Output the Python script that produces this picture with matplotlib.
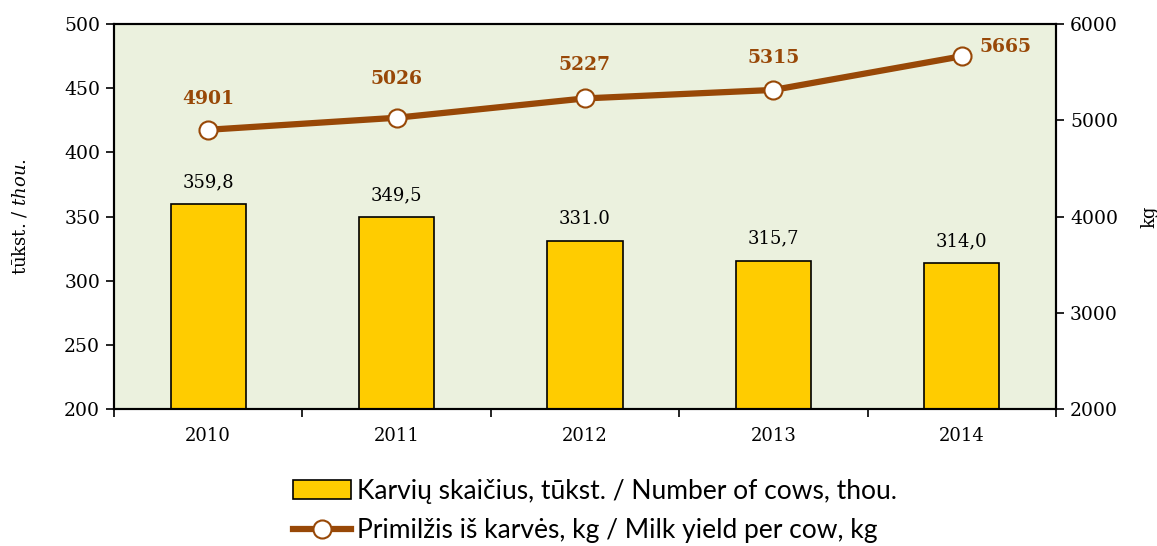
import numpy as np
import matplotlib.pyplot as plt
from matplotlib.lines import Line2D
from matplotlib.patches import Patch

years = ['2010', '2011', '2012', '2013', '2014']
cows = [359.8, 349.5, 331.0, 315.7, 314.0]
cow_labels = ['359,8', '349,5', '331.0', '315,7', '314,0']
milk = [4901, 5026, 5227, 5315, 5665]

bar_color = '#FFCC00'
line_color = '#984807'
bg_color = '#EBF1DE'
serif = ['DejaVu Serif']
sans = ['Lato', 'DejaVu Sans']
plt.rcParams['mathtext.fontset'] = 'dejavuserif'

fig = plt.figure(figsize=(11.57, 5.46), dpi=100)
ax = fig.add_axes([114/1157, 1-409/546, (1056-114)/1157, (409-24)/546])
ax.set_facecolor(bg_color)

x = np.arange(len(years))
ax.bar(x, cows, width=0.4, color=bar_color, edgecolor='black', linewidth=1.2, zorder=2)
for xi, v, lab in zip(x, cows, cow_labels):
    ax.text(xi, v + 10, lab, ha='center', va='bottom', fontsize=13, family=serif)

ax.set_xlim(-0.5, 4.5)
ax.set_ylim(200, 500)
ax.set_yticks(np.arange(200, 501, 50))
ax.set_xticks(x)
ax.set_xticklabels(years, family=serif, fontsize=13)
ax.tick_params(axis='x', length=0, pad=13)
ax.set_xticks(np.arange(-0.5, 5, 1), minor=True)
ax.tick_params(axis='x', which='minor', length=6, width=1.2, direction='out')
ax.tick_params(axis='y', length=6, width=1.2, direction='out', labelsize=13.5, pad=4)
for t in ax.get_yticklabels():
    t.set_family(serif)
for s in ax.spines.values():
    s.set_linewidth(1.5)

ax.set_ylabel(r'tūkst. / $\it{thou.}$', family=serif, fontsize=13, labelpad=25)

ax2 = ax.twinx()
ax2.set_ylim(2000, 6000)
ax2.set_yticks(np.arange(2000, 6001, 1000))
ax2.tick_params(axis='y', length=6, width=1.2, direction='out', labelsize=13.5, pad=4)
for t in ax2.get_yticklabels():
    t.set_family(serif)
ax2.set_ylabel('kg', family=serif, fontsize=13, labelpad=16)
for s in ax2.spines.values():
    s.set_linewidth(1.5)

ax2.plot(x, milk, color=line_color, linewidth=4.5, marker='o', markersize=13,
         markerfacecolor='white', markeredgecolor=line_color, markeredgewidth=1.5,
         zorder=3)
label_dy = [320, 400, 350, 330]
for xi, v, dy in zip(x[:-1], milk[:-1], label_dy):
    ax2.text(xi, v + dy, str(v), ha='center', va='center', fontsize=13.5,
             fontweight='bold', color=line_color, family=serif)
ax2.text(x[-1] + 0.234, milk[-1] + 95, str(milk[-1]), ha='center', va='center',
         fontsize=13.5, fontweight='bold', color=line_color, family=serif)

handles = [
    Patch(facecolor=bar_color, edgecolor='black', linewidth=1.2),
    Line2D([0], [0], color=line_color, linewidth=4.5, marker='o', markersize=13,
           markerfacecolor='white', markeredgecolor=line_color, markeredgewidth=1.5),
]
labels = ['Karvių skaičius, tūkst. / Number of cows, thou.',
          'Primilžis iš karvės, kg / Milk yield per cow, kg']
fig.legend(handles, labels, loc='center', bbox_to_anchor=(595/1157, 1-511/546),
           frameon=False, ncol=1, prop={'family': sans, 'size': 19},
           handlelength=2.2, handletextpad=0.2, labelspacing=0.55, borderpad=0)

fig.savefig('out.png', dpi=100)
